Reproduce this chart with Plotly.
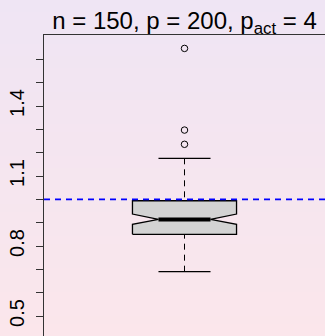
import plotly.graph_objects as go

# ---------------- data ----------------
box_positions = [1]
lower_whisker = [0.690]
q1_values = [0.850]
median_values = [0.914]
q3_values = [0.994]
upper_whisker = [1.176]
notch_low = [0.893]
notch_high = [0.937]
outlier_values = [1.236, 1.297, 1.647]
reference_value = 1.0
label_tick_values = [0.5, 0.8, 1.1, 1.4]
label_tick_texts = ["0.5", "0.8", "1.1", "1.4"]
minor_tick_values = [0.6, 0.7, 0.9, 1.0, 1.2, 1.3, 1.5, 1.6]
title_text = "n = 150, p = 200, p<sub>act</sub> = 4"

# ---------------- style ----------------
W, H = 325, 336
M_L, M_R, M_T, M_B = 44, 0, 35, 0
BOX_HALF = 0.2
NOTCH_FRAC = 0.5
STAPLE_FRAC = 0.5
FONT = "Liberation Sans, Arial, Helvetica, sans-serif"
TOP_RGB = (239, 229, 244)
BOT_RGB = (251, 230, 235)

fig = go.Figure()

for i, x in enumerate(box_positions):
    q1, med, q3 = q1_values[i], median_values[i], q3_values[i]
    nlo, nhi = notch_low[i], notch_high[i]
    lw, uw = lower_whisker[i], upper_whisker[i]
    w = BOX_HALF
    xs = [x - w, x + w, x + w, x + w * NOTCH_FRAC, x + w, x + w,
          x - w, x - w, x - w * NOTCH_FRAC, x - w, x - w]
    ys = [q1, q1, nlo, med, nhi, q3, q3, nhi, med, nlo, q1]
    # whiskers (dashed), drawn from whisker end to the box
    for a, b in ((uw, q3), (lw, q1)):
        fig.add_trace(go.Scatter(x=[x, x], y=[a, b], mode="lines",
                                 line=dict(color="black", width=1, dash="6px,5px"),
                                 hoverinfo="skip", showlegend=False))
    # staples
    for a in (uw, lw):
        fig.add_trace(go.Scatter(x=[x - w * STAPLE_FRAC, x + w * STAPLE_FRAC], y=[a, a],
                                 mode="lines", line=dict(color="black", width=1.3),
                                 hoverinfo="skip", showlegend=False))
    # notched box
    fig.add_trace(go.Scatter(x=xs, y=ys, mode="lines", fill="toself",
                             fillcolor="#D3D3D3", line=dict(color="black", width=1.3),
                             hoverinfo="skip", showlegend=False))
    # median
    fig.add_trace(go.Scatter(x=[x - w * NOTCH_FRAC, x + w * NOTCH_FRAC], y=[med, med],
                             mode="lines", line=dict(color="black", width=4),
                             hoverinfo="skip", showlegend=False))

# outliers
fig.add_trace(go.Scatter(x=[box_positions[0]] * len(outlier_values), y=outlier_values,
                         mode="markers",
                         marker=dict(symbol="circle-open", size=6.5, color="black",
                                     line=dict(width=1)),
                         hoverinfo="skip", showlegend=False))

fig.add_hline(y=reference_value, line=dict(color="#0000FF", width=1.6, dash="6px,5px"),
              layer="above")

# gradient background bands
plot_h = H - M_T - M_B
band = 4
shapes = []
for y0 in range(0, H, band):
    y1 = min(H, y0 + band)
    t = (y0 + y1) / 2 / H
    c = tuple(round(TOP_RGB[k] + (BOT_RGB[k] - TOP_RGB[k]) * t) for k in range(3))
    shapes.append(dict(type="rect", xref="paper", yref="paper",
                       x0=-0.3, x1=1.1,
                       y0=(H - M_B - y1) / plot_h, y1=(H - M_B - y0) / plot_h,
                       fillcolor="rgb(%d,%d,%d)" % c, line=dict(width=0), layer="below"))

fig.update_layout(
    width=W, height=H, autosize=False,
    margin=dict(l=M_L, r=M_R, t=M_T, b=M_B, pad=0),
    paper_bgcolor="rgb(245,230,240)", plot_bgcolor="rgba(0,0,0,0)",
    shapes=list(fig.layout.shapes) + shapes,
    title=dict(text=title_text, x=0.5, xref="paper", xanchor="center",
               y=1 - 20.8 / H, yref="container", yanchor="middle",
               font=dict(family=FONT, size=24, color="black")),
    xaxis=dict(range=[0.46, 1.54], showgrid=False, zeroline=False, showticklabels=False,
               ticks="", showline=True, side="top", linecolor="#333", linewidth=1),
    yaxis=dict(range=[0.4143, 1.7045], showgrid=False, zeroline=False, automargin=False,
               tickmode="array", tickvals=label_tick_values, ticktext=label_tick_texts,
               ticks="outside", ticklen=7, tickwidth=1, tickcolor="#333",
               minor=dict(tickmode="array", tickvals=minor_tick_values, ticks="outside",
                          ticklen=7, tickwidth=1, tickcolor="#333", showgrid=False),
               showline=True, linecolor="#333", linewidth=1, ticklabelstandoff=4,
               tickangle=-90, tickfont=dict(family=FONT, size=20, color="black")),
    showlegend=False,
)

fig.write_html("out.html", config={"displayModeBar": False},
               post_script="document.body.style.margin='0px';document.body.style.padding='0px';")
